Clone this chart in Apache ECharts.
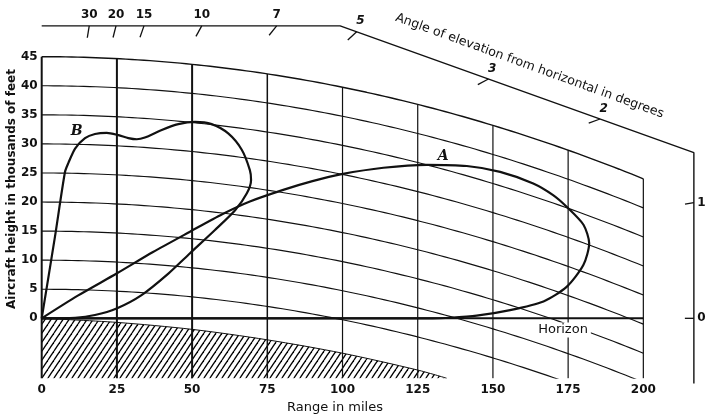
<!DOCTYPE html>
<html><head><meta charset="utf-8">
<script src="https://cdn.jsdelivr.net/npm/echarts@6/dist/echarts.min.js"></script>
<style>html,body{margin:0;padding:0;background:#fff}#c{width:705px;height:416px}</style>
</head><body><div id="c"></div>
<script>
// ---------------- data ----------------
const rangeTicks   = [0, 25, 50, 75, 100, 125, 150, 175, 200];        // miles
const heightTicks  = [0, 5, 10, 15, 20, 25, 30, 35, 40, 45];           // thousands of feet
const heightLevels = [5, 10, 15, 20, 25, 30, 35, 40, 45];              // constant-height curves
const dropAt200    = 21;        // drop (kft) of a constant-height curve at 200 miles (read)
const earthSurface = [[0,0],[25,-0.7],[50,-1.9],[75,-3.7],[100,-6.0],[125,-8.9],[134.6,-10.3]]; // hatched boundary
const angleTickLabels = ['30', '20', '15', '10', '7', '5', '3', '2']; // degrees
const angleTickRange  = [15.8, 24.7, 34.0, 53.2, 78.1, 104.7, 148.5, 185.6]; // where ticks meet the scale line (miles)
const rightTickLabels = ['1', '0'];
const rightTickHeight = [19.9, 0];                                      // kft on the right-hand scale
const angleFrame = [[0, 50.3], [99.2, 50.3], [216.8, 28.5], [216.8, -11.2]];
const curveA = [[0,0],[12,3.9],[24.9,7.7],[37,11.4],[49.3,14.9],[60,17.9],[69.2,20.1],[80.3,22.1],[90,23.6],
  [99.7,24.8],[113.6,25.9],[128,26.4],[141.3,26.2],[152.4,25.2],[163.4,23.2],[170,21.2],[174.5,19.2],[180.1,16.1],
  [182,12.9],[180.1,9.2],[174.5,5.4],[166.8,2.9],[155.7,1.4],[144.6,0.45],[135.7,0.1],[130,0],[60,0],[0,0]];
const curveB = [[0,0],[4.4,14.0],[7.75,25.2],[8.85,26.7],[11.1,29.2],[14.4,31.0],[17.7,31.7],[21.6,31.9],[25.5,31.5],
  [28.8,31.0],[31.6,30.8],[34.3,31.1],[39.9,32.4],[45.4,33.4],[51.0,33.8],[56.5,33.4],[62.0,31.8],[66.5,29.0],
  [69.2,25.5],[69.6,23.8],[68.2,21.5],[64.3,18.6],[57.6,15.2],[49.3,11.2],[42.1,7.7],[33.2,4.0],[24.9,1.7],
  [17.7,0.57],[11.1,0.1],[0,0]];
const curveLabels = [['A', 133.5, 27.9], ['B', 11.6, 32.2]];
const horizonLabel = ['Horizon', 173.3, -2.0];

// ---------------- layout ----------------
const X_MIN = 0, X_MAX = 220, Y_MIN = -10.3, Y_MAX = 53;
const GRID = { left: 41.7, right: 1.5, top: 10.2, bottom: 37.8 };
const SX = (705 - GRID.left - GRID.right) / (X_MAX - X_MIN);
const SY = (416 - GRID.top - GRID.bottom) / (Y_MAX - Y_MIN);
const INK = '#111111';
const FONT = 'DejaVu Sans';

const drop = d => dropAt200 * (d / 200) * (d / 200);
function levelCurve(h) {
  const pts = [];
  for (let d = 0; d <= 200; d += 2) pts.push([d, h - drop(d)]);
  return pts;
}
function frameAt(d) {
  for (let i = 0; i < angleFrame.length - 1; i++) {
    const [x0, y0] = angleFrame[i], [x1, y1] = angleFrame[i + 1];
    if (x1 > x0 && d >= x0 && d <= x1) return y0 + (y1 - y0) * (d - x0) / (x1 - x0);
  }
  return angleFrame[angleFrame.length - 1][1];
}
function towardOrigin(d, h, lenPx) {
  const L = Math.hypot(d * SX, h * SY);
  const f = 1 - lenPx / L;
  return [d * f, h * f];
}

// hatch pattern
const pc = document.createElement('canvas');
pc.width = 6; pc.height = 9;
const g = pc.getContext('2d');
g.strokeStyle = '#000'; g.lineWidth = 1.3;
for (const dx of [-6, 0, 6]) { g.beginPath(); g.moveTo(dx, 9); g.lineTo(dx + 6, 0); g.stroke(); }

const series = [];
const baseLine = (data, width, extra) => Object.assign({
  type: 'line', data, symbol: 'none', silent: true, animation: false,
  lineStyle: { color: INK, width }, z: 3
}, extra || {});

// hatched earth
series.push(baseLine(earthSurface, 1, {
  smooth: 0.3,
  areaStyle: { color: { image: pc, repeat: 'repeat' }, origin: 'start', opacity: 1 }, z: 2
}));
// constant-height curves
heightLevels.forEach(h => series.push(baseLine(levelCurve(h), h === 45 ? 1.4 : 1.15)));
// vertical range lines
rangeTicks.filter(r => r > 0).forEach(r => {
  const w = (r === 25 || r === 50) ? 2 : (r === 75 ? 1.5 : 1.2);
  series.push(baseLine([[r, Y_MIN], [r, 45 - drop(r)]], w));
});
// horizon
series.push(baseLine([[0, 0], [200, 0]], 2));
// left spine
series.push(baseLine([[0, Y_MIN], [0, 45]], 2));
// angle-of-elevation frame
series.push(baseLine(angleFrame, 1.4, { clip: false }));
// angle ticks
const tickLabelData = [];
angleTickRange.forEach((d, i) => {
  const h = frameAt(d);
  series.push(baseLine([[d, h], towardOrigin(d, h, 12)], 1.3, { clip: false }));
  const slanted = d > angleFrame[1][0];
  tickLabelData.push({
    value: [d, h], name: angleTickLabels[i],
    label: { offset: slanted ? [3.7, -10.6] : [0, -11], fontStyle: slanted ? 'italic' : 'normal' }
  });
});
rightTickHeight.forEach((h, i) => {
  const d = angleFrame[2][0];
  series.push(baseLine([[d, h], towardOrigin(d, h, 9)], 1.3, { clip: false }));
  tickLabelData.push({ value: [d, h], name: rightTickLabels[i], label: { offset: [7.5, 0] } });
});
// coverage curves
series.push(baseLine(curveA, 2.2, { smooth: 0.25, z: 5 }));
series.push(baseLine(curveB, 2.2, { smooth: 0.25, z: 5 }));

// labels
const labelSeries = (data, labelOpt) => ({
  type: 'scatter', silent: true, animation: false, clip: false, symbolSize: 0.01,
  itemStyle: { color: INK, opacity: 1 }, z: 10, data,
  label: Object.assign({ show: true, position: 'inside', formatter: p => p.name, color: INK,
    textBorderWidth: 0, opacity: 1 }, labelOpt)
});
series.push(labelSeries(tickLabelData, { fontFamily: FONT, fontWeight: 'bold', fontSize: 12 }));
series.push(labelSeries(curveLabels.map(c => ({ value: [c[1], c[2]], name: c[0] })),
  { fontFamily: 'DejaVu Serif', fontWeight: 'bold', fontStyle: 'italic', fontSize: 14 }));
series.push(labelSeries([{ value: [horizonLabel[1], horizonLabel[2]], name: horizonLabel[0] }],
  { fontFamily: FONT, fontSize: 13, backgroundColor: '#fff', padding: [1, 3] }));

const axisLabelStyle = { color: INK, fontFamily: FONT, fontWeight: 'bold', fontSize: 12 };
const chart = echarts.init(document.getElementById('c'), null, { renderer: 'canvas' });
chart.setOption({
  backgroundColor: '#fff',
  animation: false,
  grid: GRID,
  xAxis: {
    type: 'value', min: X_MIN, max: X_MAX,
    axisLine: { show: false }, axisTick: { show: false }, splitLine: { show: false },
    axisLabel: Object.assign({ customValues: rangeTicks, margin: 6 }, axisLabelStyle)
  },
  yAxis: {
    type: 'value', min: Y_MIN, max: Y_MAX,
    axisLine: { show: false }, axisTick: { show: false }, splitLine: { show: false },
    axisLabel: Object.assign({ customValues: heightTicks, margin: 4 }, axisLabelStyle)
  },
  graphic: [
    { type: 'text', x: 12, y: 189, rotation: Math.PI / 2, silent: true,
      style: { text: 'Aircraft height in thousands of feet', fontFamily: FONT, fontWeight: 'bold', fontSize: 12,
        fill: INK, textAlign: 'center', textVerticalAlign: 'middle', align: 'center', verticalAlign: 'middle' } },
    { type: 'text', x: 335, y: 408, silent: true,
      style: { text: 'Range in miles', fontFamily: FONT, fontSize: 13,
        fill: INK, textAlign: 'center', textVerticalAlign: 'middle', align: 'center', verticalAlign: 'middle' } },
    { type: 'text', x: 529.5, y: 66, rotation: -20 * Math.PI / 180, silent: true,
      style: { text: 'Angle of elevation from horizontal in degrees', fontFamily: FONT, fontSize: 12.6,
        fill: INK, textAlign: 'center', textVerticalAlign: 'middle', align: 'center', verticalAlign: 'middle' } }
  ],
  series
});
</script></body></html>
